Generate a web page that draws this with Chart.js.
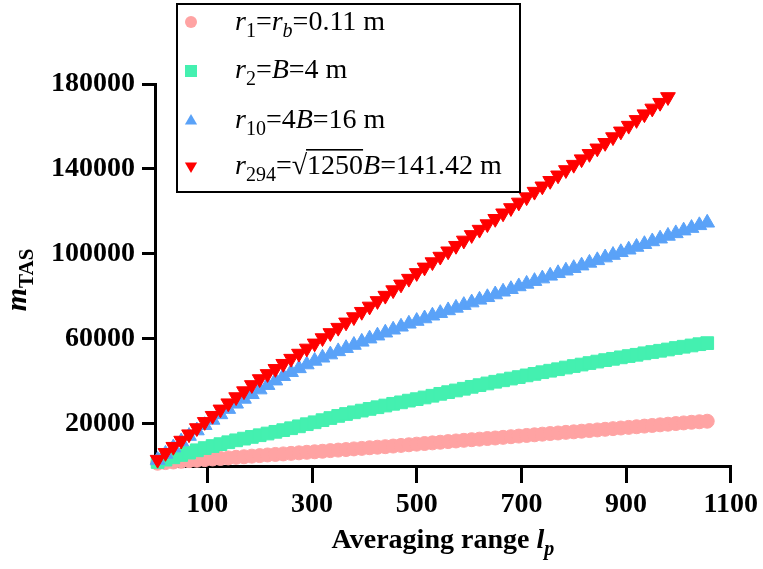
<!DOCTYPE html>
<html>
<head>
<meta charset="utf-8">
<script src="https://cdn.jsdelivr.net/npm/chart.js@4.4.1/dist/chart.umd.min.js"></script>
<style>
    html, body { margin: 0; padding: 0; background: #fff; }
    #wrap { width: 763px; height: 569px; }
</style>
</head>
<body>
<div id="wrap"><canvas id="tasChart" width="763" height="569"></canvas></div>
<script>
// Averaging range l_p (x values)
const lp = [
    5, 20, 35, 50, 65, 80, 95, 110, 125, 140,
    155, 170, 185, 200, 215, 230, 245, 260, 275, 290,
    305, 320, 335, 350, 365, 380, 395, 410, 425, 440,
    455, 470, 485, 500, 515, 530, 545, 560, 575, 590,
    605, 620, 635, 650, 665, 680, 695, 710, 725, 740,
    755, 770, 785, 800, 815, 830, 845, 860, 875, 890,
    905, 920, 935, 950, 965, 980, 995, 1010, 1025, 1040,
    1055
];

// m_TAS for r1 = rb = 0.11 m
const r1Values = [
    1300, 1600, 1900, 2200, 2500, 2700, 3000, 3300, 3550, 3800,
    4100, 4350, 4650, 4900, 5200, 5450, 5700, 5950, 6200, 6450,
    6700, 6950, 7250, 7500, 7750, 8050, 8300, 8600, 8850, 9100,
    9400, 9700, 10000, 10300, 10600, 10900, 11200, 11500, 11800, 12100,
    12400, 12650, 12950, 13200, 13500, 13800, 14100, 14400, 14700, 15000,
    15300, 15550, 15850, 16100, 16400, 16700, 17000, 17300, 17600, 17900,
    18200, 18500, 18800, 19100, 19400, 19700, 20000, 20300, 20600, 20850,
    21100
];

// m_TAS for r2 = B = 4 m
const r2Values = [
    1900, 3000, 4100, 5200, 6300, 7400, 8450, 9400, 10300, 11200,
    12100, 12900, 13700, 14500, 15300, 16100, 16900, 17800, 18700, 19700,
    20600, 21600, 22600, 23600, 24500, 25300, 26100, 26900, 27700, 28500,
    29300, 30000, 30800, 31500, 32300, 33100, 34000, 34800, 35600, 36400,
    37300, 38100, 38900, 39700, 40400, 41200, 41900, 42700, 43400, 44200,
    44900, 45600, 46400, 47100, 47800, 48500, 49200, 49900, 50500, 51200,
    51800, 52400, 53100, 53700, 54300, 54900, 55600, 56200, 56800, 57400,
    57900
];

// m_TAS for r10 = 4B = 16 m
const r10Values = [
    2800, 5700, 8700, 11500, 14100, 16700, 19200, 21700, 24300, 26800,
    29300, 31600, 33800, 36000, 38100, 40200, 42300, 44200, 46000, 47800,
    49500, 51000, 52500, 54000, 55500, 57000, 58500, 60000, 61400, 62800,
    64200, 65600, 67000, 68300, 69500, 70800, 72000, 73300, 74500, 75800,
    77000, 78300, 79500, 80800, 82100, 83300, 84600, 85800, 87100, 88300,
    89600, 90800, 92000, 93200, 94400, 95700, 96900, 98200, 99400, 100700,
    101900, 103200, 104500, 105800, 107100, 108400, 109600, 110900, 112100, 113400,
    114600
];

// m_TAS for r294 = sqrt(1250)B = 141.42 m (stops earlier)
const r294Values = [
    3000, 6200, 9100, 12000, 15000, 17900, 20800, 23700, 26700, 29600,
    32500, 35300, 38200, 41000, 43400, 45800, 48200, 50600, 53000, 55400,
    57800, 60300, 62700, 65200, 67700, 70200, 72700, 75200, 77800, 80300,
    82900, 85600, 88300, 91000, 93600, 96100, 98700, 101200, 103800, 106300,
    108900, 111400, 114000, 116500, 119100, 121600, 124200, 126700, 129300, 131800,
    134400, 137000, 139500, 142000, 144600, 147100, 149700, 152300, 155000, 157700,
    160400, 163100, 165800, 168500, 171200, 173900
];

// Tick labels
const xTicks = [100, 300, 500, 700, 900, 1100];
const yTicks = [20000, 60000, 100000, 140000, 180000];

// Colours
const PINK = '#ffa3a3';
const GREEN = '#44f0b0';
const BLUE = '#5aa2f8';
const RED = '#ff0000';

const SERIF = '"Liberation Serif", "Times New Roman", serif';

function toPoints(values) {
    return values.map((v, i) => ({ x: lp[i], y: v }));
}

// Draw a row of text pieces (for italics / subscripts), returns end x
function drawRuns(ctx, x, y, runs) {
    runs.forEach(run => {
        ctx.font = run.font;
        const w = ctx.measureText(run.text).width;
        ctx.fillText(run.text, x, y + (run.dy || 0));
        if (run.overline) {
            ctx.fillRect(x - 1, y - 25, w + 1, 1.6);
        }
        x += w;
    });
    return x;
}

function runsWidth(ctx, runs) {
    let w = 0;
    runs.forEach(run => {
        ctx.font = run.font;
        w += ctx.measureText(run.text).width;
    });
    return w;
}

function drawMarker(ctx, style, x, y, color) {
    ctx.fillStyle = color;
    ctx.beginPath();
    if (style === 'circle') {
        ctx.arc(x, y, 6, 0, Math.PI * 2);
    } else if (style === 'rect') {
        ctx.rect(x - 6, y - 6, 12, 12);
    } else if (style === 'up') {
        ctx.moveTo(x, y - 7);
        ctx.lineTo(x + 6.1, y + 3.5);
        ctx.lineTo(x - 6.1, y + 3.5);
    } else {
        ctx.moveTo(x, y + 7);
        ctx.lineTo(x + 6.1, y - 3.5);
        ctx.lineTo(x - 6.1, y - 3.5);
    }
    ctx.closePath();
    ctx.fill();
}

const REG = '28px ' + SERIF;
const IT = 'italic 28px ' + SERIF;
const SUB = '20px ' + SERIF;
const ITSUB = 'italic 20px ' + SERIF;

const legendRows = [
    { marker: 'circle', color: PINK, y: 22, base: 30, runs: [
        { text: 'r', font: IT }, { text: '1', font: SUB, dy: 7 }, { text: '=', font: REG },
        { text: 'r', font: IT }, { text: 'b', font: ITSUB, dy: 7 }, { text: '=0.11 m', font: REG }
    ] },
    { marker: 'rect', color: GREEN, y: 71, base: 78, runs: [
        { text: 'r', font: IT }, { text: '2', font: SUB, dy: 7 }, { text: '=', font: REG },
        { text: 'B', font: IT }, { text: '=4 m', font: REG }
    ] },
    { marker: 'up', color: BLUE, y: 121, base: 128, runs: [
        { text: 'r', font: IT }, { text: '10', font: SUB, dy: 7 }, { text: '=4', font: REG },
        { text: 'B', font: IT }, { text: '=16 m', font: REG }
    ] },
    { marker: 'down', color: RED, y: 166, base: 174, runs: [
        { text: 'r', font: IT }, { text: '294', font: SUB, dy: 7 }, { text: '=\u221A', font: REG },
        { text: '1250', font: REG, overline: true }, { text: 'B', font: IT }, { text: '=141.42 m', font: REG }
    ] }
];

// Axis titles and legend box
const labelPlugin = {
    id: 'labelPlugin',
    afterDraw(chart) {
        const ctx = chart.ctx;
        ctx.save();
        ctx.fillStyle = '#000';
        ctx.textBaseline = 'alphabetic';

        // x axis title
        const xRuns = [
            { text: 'Averaging range ', font: 'bold 28px ' + SERIF },
            { text: 'l', font: 'bold italic 28px ' + SERIF },
            { text: 'p', font: 'bold italic 20px ' + SERIF, dy: 7 }
        ];
        const cx = (chart.chartArea.left + chart.chartArea.right) / 2;
        drawRuns(ctx, cx - runsWidth(ctx, xRuns) / 2, 548, xRuns);

        // y axis title (rotated)
        const yRuns = [
            { text: 'm', font: 'bold italic 30px ' + SERIF },
            { text: 'TAS', font: 'bold 21px ' + SERIF, dy: 7 }
        ];
        ctx.save();
        ctx.translate(26, 280);
        ctx.rotate(-Math.PI / 2);
        drawRuns(ctx, -runsWidth(ctx, yRuns) / 2, 0, yRuns);
        ctx.restore();

        // legend
        ctx.fillStyle = '#fff';
        ctx.fillRect(177, 4, 343, 188);
        ctx.strokeStyle = '#000';
        ctx.lineWidth = 2;
        ctx.strokeRect(177, 4, 343, 188);
        legendRows.forEach(row => {
            drawMarker(ctx, row.marker, 191, row.y, row.color);
            ctx.fillStyle = '#000';
            drawRuns(ctx, 235, row.base, row.runs);
        });
        ctx.restore();
    }
};

const tickFont = { family: SERIF, size: 28, weight: 'bold' };

function makeDataset(label, values, style, radius, color, order, rotation) {
    return {
        label: label,
        data: toPoints(values),
        pointStyle: style,
        pointRadius: radius,
        pointRotation: rotation || 0,
        pointBackgroundColor: color,
        pointBorderColor: color,
        pointBorderWidth: 1,
        backgroundColor: color,
        borderColor: color,
        showLine: false,
        clip: false,
        order: order
    };
}

const ctx = document.getElementById('tasChart').getContext('2d');
const tasChart = new Chart(ctx, {
    type: 'scatter',
    data: {
        datasets: [
            makeDataset('r1=rb=0.11 m', r1Values, 'circle', 7, PINK, 3),
            makeDataset('r2=B=4 m', r2Values, 'rect', 9, GREEN, 2),
            makeDataset('r10=4B=16 m', r10Values, 'triangle', 8.5, BLUE, 1),
            makeDataset('r294=\u221A1250B=141.42 m', r294Values, 'triangle', 8.5, RED, 0, 180)
        ]
    },
    options: {
        responsive: false,
        animation: false,
        devicePixelRatio: 1,
        layout: { padding: { top: 84, right: 27, left: 0, bottom: 0 } },
        plugins: {
            legend: { display: false },
            tooltip: { enabled: false }
        },
        scales: {
            x: {
                type: 'linear',
                min: 0,
                max: 1100,
                afterBuildTicks: scale => { scale.ticks = xTicks.map(v => ({ value: v })); },
                afterFit: scale => { scale.height = 103; },
                border: { color: '#000', width: 3 },
                grid: { drawOnChartArea: false, drawTicks: true, tickLength: 17, color: '#000', lineWidth: 3 },
                ticks: { color: '#000', padding: 5, font: tickFont, maxRotation: 0, autoSkip: false, callback: v => String(v) }
            },
            y: {
                type: 'linear',
                min: 0,
                max: 180000,
                afterBuildTicks: scale => { scale.ticks = yTicks.map(v => ({ value: v })); },
                afterFit: scale => { scale.width = 155; },
                border: { color: '#000', width: 3 },
                grid: { drawOnChartArea: false, drawTicks: true, tickLength: 13, color: '#000', lineWidth: 3 },
                ticks: { color: '#000', padding: 7, font: tickFont, autoSkip: false, callback: v => String(v) }
            }
        }
    },
    plugins: [labelPlugin]
});
</script>
</body>
</html>
